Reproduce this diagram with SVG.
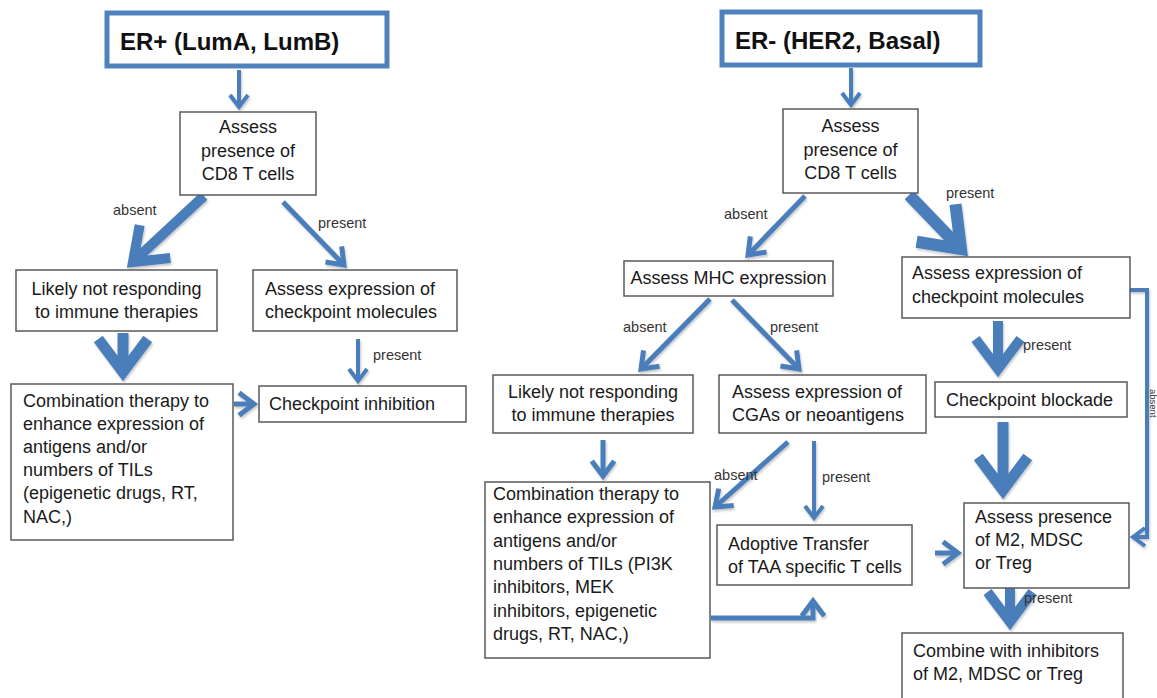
<svg xmlns="http://www.w3.org/2000/svg" width="1157" height="698" viewBox="0 0 1157 698">
<defs>
<style>
.bx{fill:#fff;stroke:#5a5a5a;stroke-width:1.5}
.hd{fill:#fff;stroke:#4f81bd;stroke-width:5}
.t{font-family:"Liberation Sans",Arial,sans-serif;font-size:18px;fill:#1a1a1a}
.c{text-anchor:middle}
.h{font-family:"Liberation Sans",Arial,sans-serif;font-size:24px;font-weight:bold;fill:#111}
.lb{font-family:"Liberation Sans",Arial,sans-serif;font-size:14.5px;fill:#333}
.ar{fill:none;stroke:#4a7ebb;marker-end:url(#ah)}
</style>
<marker id="ah" viewBox="0 0 10 10" refX="9" refY="5" markerWidth="5" markerHeight="5" orient="auto" markerUnits="strokeWidth" overflow="visible">
<path d="M3,0.5 L9,5 L3,9.5" fill="none" stroke="#4a7ebb" stroke-width="2" stroke-linejoin="miter"/>
</marker>
<filter id="sh" x="-20%" y="-20%" width="140%" height="140%"><feDropShadow dx="1" dy="2" stdDeviation="1.2" flood-color="#000" flood-opacity="0.22"/></filter>
</defs>
<rect width="1157" height="698" fill="#fff"/>

<g id="connectors" filter="url(#sh)">
<path class="ar" stroke-width="4" d="M239,70 L239,107"/>
<path class="ar" stroke-width="10" d="M204,196 L133,262"/>
<path class="ar" stroke-width="5" d="M283,202 L344,265"/>
<path class="ar" stroke-width="11" d="M123,333 L123,372"/>
<path class="ar" stroke-width="4" d="M358,339 L358,381"/>
<path class="ar" stroke-width="5" d="M234,404 L254,404"/>
<path class="ar" stroke-width="4" d="M851,68 L851,105"/>
<path class="ar" stroke-width="5" d="M805,196 L748,255"/>
<path class="ar" stroke-width="12" d="M909,195 L961,249"/>
<path class="ar" stroke-width="5" d="M710,299 L641,369"/>
<path class="ar" stroke-width="5" d="M732,300 L799,369"/>
<path class="ar" stroke-width="5" d="M603,440 L603,476"/>
<path class="ar" stroke-width="5" d="M788,442 L715,507"/>
<path class="ar" stroke-width="4" d="M814,441 L814,518"/>
<path class="ar" stroke-width="5" d="M711,618 L813,618 L813,601"/>
<path class="ar" stroke-width="10" d="M998,321 L998,369"/>
<path class="ar" stroke-width="11" d="M1003,422 L1003,490"/>
<path class="ar" stroke-width="5" d="M935,553 L958,553"/>
<path class="ar" stroke-width="10" d="M1010,588 L1010,622"/>
<path class="ar" stroke-width="4" d="M1130,290 L1147,290 L1147,537 L1133,537"/>
</g>

<g id="labels">
<text class="lb" x="113" y="215">absent</text>
<text class="lb" x="318" y="228">present</text>
<text class="lb" x="373" y="360">present</text>
<text class="lb" x="724" y="219">absent</text>
<text class="lb" x="946" y="198">present</text>
<text class="lb" x="623" y="332">absent</text>
<text class="lb" x="770" y="332">present</text>
<text class="lb" x="714" y="480">absent</text>
<text class="lb" x="822" y="482">present</text>
<text class="lb" x="1023" y="350">present</text>
<text class="lb" x="1024" y="603">present</text>
<text class="lb" style="font-size:9.5px" transform="translate(1150,389) rotate(90)">absent</text>
</g>

<g id="header-er-pos">
<rect class="hd" x="107" y="13" width="280" height="53"/>
<text class="h" x="120" y="50">ER+ (LumA, LumB)</text>
</g>
<g id="l-cd8">
<rect class="bx" x="180" y="112" width="136" height="83"/>
<text class="t c" x="248" y="133">Assess</text>
<text class="t c" x="248" y="157">presence of</text>
<text class="t c" x="248" y="180">CD8 T cells</text>
</g>
<g id="l-notresp">
<rect class="bx" x="16" y="270" width="201" height="61"/>
<text class="t c" x="116.5" y="295">Likely not responding</text>
<text class="t c" x="116.5" y="318">to immune therapies</text>
</g>
<g id="l-checkpoint">
<rect class="bx" x="253" y="270" width="204" height="61"/>
<text class="t" x="265" y="295">Assess expression of</text>
<text class="t" x="265" y="318">checkpoint molecules</text>
</g>
<g id="l-combination">
<rect class="bx" x="11" y="384" width="222" height="156"/>
<text class="t" x="23" y="407">Combination therapy to</text>
<text class="t" x="23" y="430">enhance expression of</text>
<text class="t" x="23" y="453">antigens and/or</text>
<text class="t" x="23" y="476">numbers of TILs</text>
<text class="t" x="23" y="499">(epigenetic drugs, RT,</text>
<text class="t" x="23" y="523">NAC,)</text>
</g>
<g id="l-inhibition">
<rect class="bx" x="259" y="386" width="207" height="36"/>
<text class="t" x="269" y="410">Checkpoint inhibition</text>
</g>

<g id="header-er-neg">
<rect class="hd" x="722" y="12" width="258" height="53"/>
<text class="h" x="735" y="49">ER- (HER2, Basal)</text>
</g>
<g id="r-cd8">
<rect class="bx" x="783" y="109" width="135" height="84"/>
<text class="t c" x="850.5" y="132">Assess</text>
<text class="t c" x="850.5" y="156">presence of</text>
<text class="t c" x="850.5" y="179">CD8 T cells</text>
</g>
<g id="r-mhc">
<rect class="bx" x="624" y="261" width="209" height="35"/>
<text class="t c" x="728.5" y="284">Assess MHC expression</text>
</g>
<g id="r-checkpoint">
<rect class="bx" x="902" y="257" width="228" height="61"/>
<text class="t" x="912" y="279">Assess expression of</text>
<text class="t" x="912" y="303">checkpoint molecules</text>
</g>
<g id="r-notresp">
<rect class="bx" x="493" y="375" width="200" height="58"/>
<text class="t c" x="593" y="398">Likely not responding</text>
<text class="t c" x="593" y="421">to immune therapies</text>
</g>
<g id="r-cga">
<rect class="bx" x="719" y="375" width="207" height="58"/>
<text class="t" x="732" y="398">Assess expression of</text>
<text class="t" x="732" y="421">CGAs or neoantigens</text>
</g>
<g id="r-combination">
<rect class="bx" x="485" y="482" width="225" height="176"/>
<text class="t" x="493" y="500">Combination therapy to</text>
<text class="t" x="493" y="523">enhance expression of</text>
<text class="t" x="493" y="547">antigens and/or</text>
<text class="t" x="493" y="570">numbers of TILs (PI3K</text>
<text class="t" x="493" y="593">inhibitors, MEK</text>
<text class="t" x="493" y="617">inhibitors, epigenetic</text>
<text class="t" x="493" y="640">drugs, RT, NAC,)</text>
</g>
<g id="r-adoptive">
<rect class="bx" x="717" y="525" width="195" height="60"/>
<text class="t" x="728" y="550">Adoptive Transfer</text>
<text class="t" x="728" y="573">of TAA specific T cells</text>
</g>
<g id="r-blockade">
<rect class="bx" x="935" y="382" width="192" height="35"/>
<text class="t" x="946" y="406">Checkpoint blockade</text>
</g>
<g id="r-m2">
<rect class="bx" x="964" y="503" width="165" height="85"/>
<text class="t" x="975" y="523">Assess presence</text>
<text class="t" x="975" y="546">of M2, MDSC</text>
<text class="t" x="975" y="569">or Treg</text>
</g>
<g id="r-combine">
<rect class="bx" x="902" y="633" width="221" height="70"/>
<text class="t" x="913" y="657">Combine with inhibitors</text>
<text class="t" x="913" y="680">of M2, MDSC or Treg</text>
</g>
</svg>
